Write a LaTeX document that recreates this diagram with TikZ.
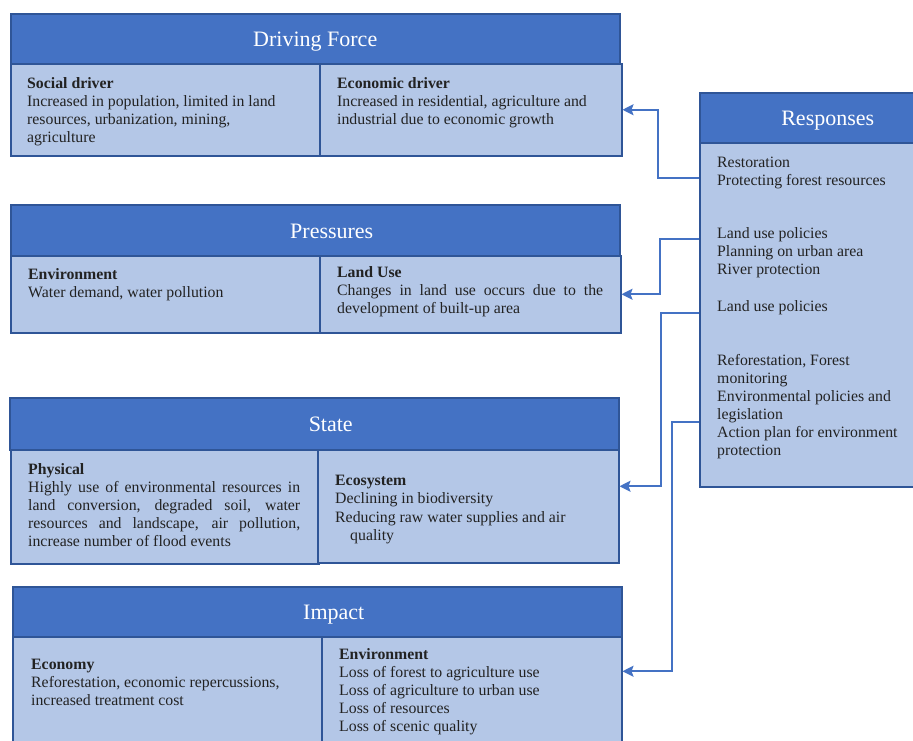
\documentclass[tikz,border=0pt]{standalone}
\usepackage{fontspec}
\setmainfont{Liberation Serif}
\usetikzlibrary{arrows.meta,calc}
\definecolor{hdrblue}{HTML}{4472C4}
\definecolor{bodyblue}{HTML}{B4C7E7}
\definecolor{edgeblue}{HTML}{2F5597}
\definecolor{txtgray}{HTML}{222222}
\tikzset{
  hdr/.style={draw=edgeblue, line width=1.5pt, fill=hdrblue, text=white,
    font=\fontsize{22}{26}\selectfont, anchor=north west, inner sep=0pt,
    text height=16pt, text depth=0pt},
  bodybox/.style={draw=edgeblue, line width=1.5pt, fill=bodyblue, anchor=north west, inner sep=0pt},
  txt/.style={anchor=north west, inner sep=0pt, align=left, yshift=-1.5pt,
    font=\fontsize{15.8}{18}\selectfont, text=txtgray},
  jtxt/.style={txt, align=justify},
  arr/.style={draw=hdrblue, line width=2pt, -{Stealth[length=11pt,width=11pt,inset=2pt]}}
}
\begin{document}
\begin{tikzpicture}[x=1pt,y=-1pt]
\useasboundingbox (0,0) rectangle (913,740);
\clip (0,0) rectangle (913,740);
% Driving Force
\node[hdr, minimum width=609pt, minimum height=50pt] (dfh) at (10,13) {Driving Force};
\node[bodybox, minimum width=309pt, minimum height=92pt] (dfl) at (10,63) {};
\node[bodybox, minimum width=302pt, minimum height=92pt] (dfr) at (319,63) {};
\node[txt] (t1) at (27,76) {\textbf{Social driver}\\Increased in population, limited in land\\resources, urbanization, mining,\\agriculture};
\node[txt] (t2) at (337,76) {\textbf{Economic driver}\\Increased in residential, agriculture and\\industrial due to economic growth};
% Pressures
\node[hdr, minimum width=609pt, minimum height=51pt] (ph) at (10,204) {\hspace*{33pt}Pressures};
\node[bodybox, minimum width=309pt, minimum height=77pt] (pl) at (10,255) {};
\node[bodybox, minimum width=301pt, minimum height=77pt] (pr) at (319,255) {};
\node[txt] (t3) at (28,267) {\textbf{Environment}\\Water demand, water pollution};
\node[jtxt, text width=266pt] (t4) at (337,265) {\textbf{Land Use}\\Changes in land use occurs due to the\linebreak development of built-up area};
% State
\node[hdr, minimum width=609pt, minimum height=52pt] (sh) at (9,397) {\hspace*{33pt}State};
\node[bodybox, minimum width=308pt, minimum height=114pt] (sl) at (10,449) {};
\node[bodybox, minimum width=301pt, minimum height=113pt] (sr) at (317,449) {};
\node[jtxt, text width=272pt] (t5) at (28,462) {\textbf{Physical}\\Highly use of environmental resources in\linebreak land conversion, degraded soil, water\linebreak resources and landscape, air pollution,\linebreak increase number of flood events};
\node[txt] (t6) at (335,473) {\textbf{Ecosystem}\\Declining in biodiversity\\[1pt]Reducing raw water supplies and air\\\hspace*{15pt}quality};
% Impact
\node[hdr, minimum width=609pt, minimum height=50pt] (ih) at (12,586) {\hspace*{33pt}Impact};
\node[bodybox, minimum width=309pt, minimum height=115pt] (il) at (12,636) {};
\node[bodybox, minimum width=300pt, minimum height=115pt] (ir) at (321,636) {};
\node[txt] (t7) at (31,657) {\textbf{Economy}\\Reforestation, economic repercussions,\\increased treatment cost};
\node[txt] (t8) at (339,647) {\textbf{Environment}\\Loss of forest to agriculture use\\Loss of agriculture to urban use\\Loss of resources\\Loss of scenic quality};
% Responses
\node[hdr, minimum width=256pt, minimum height=50pt] (rh) at (699,92) {Responses};
\node[bodybox, minimum width=256pt, minimum height=344pt] (rb) at (699,142) {};
\node[txt] (r1) at (717,155) {Restoration\\Protecting forest resources};
\node[txt] (r2) at (717,226) {Land use policies\\Planning on urban area\\River protection};
\node[txt] (r3) at (717,299) {Land use policies};
\node[txt] (r4) at (717,353) {Reforestation, Forest\\monitoring\\Environmental policies and\\legislation\\Action plan for environment\\protection};
% Connectors
\draw[arr] ([yshift=-36pt]rb.north west) -- ++(-41,0) |- (dfr.east);
\draw[arr] ([yshift=-97pt]rb.north west) -- ++(-39,0) |- (pr.east);
\draw[arr] ([yshift=-171pt]rb.north west) -- ++(-38,0) |- ([yshift=20pt]sr.east);
\draw[arr] ([yshift=-280pt]rb.north west) -- ++(-27,0) |- ([yshift=23pt]ir.east);
\end{tikzpicture}
\end{document}
